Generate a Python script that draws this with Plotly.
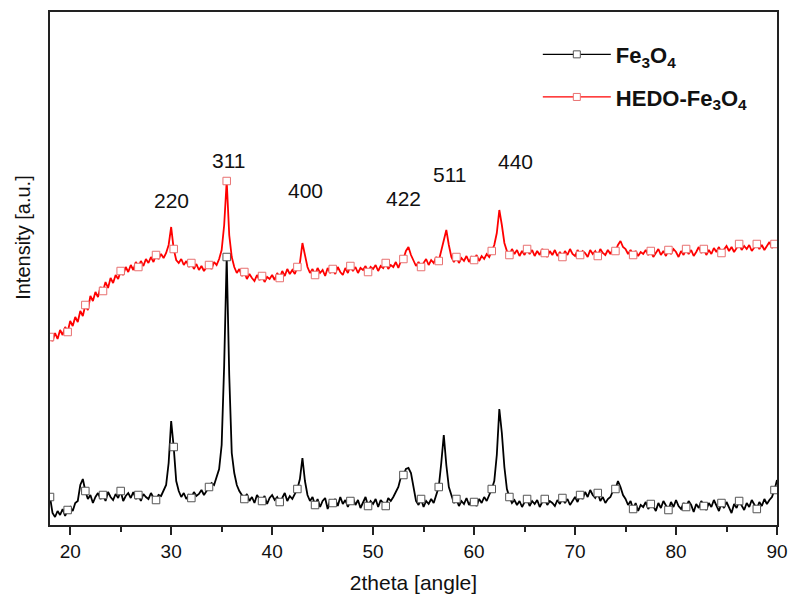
import plotly.graph_objects as go

# 2theta grid: 18 to 90 deg, step 0.25
two_theta_start = 18.0
two_theta_step = 0.25

fe3o4 = [
    28, 12, 8, 14,   10, 16, 9, 15,   18, 14, 22, 24,   40, 46, 34, 26,
    30, 22, 28, 32,  26, 30, 24, 33,  28, 25, 31, 27,  34, 24, 29, 32,
    27, 33, 26, 30,  24, 31, 28, 26,  32, 27, 25, 30,  29, 34, 40, 62,
    104, 78, 44, 34, 28, 32, 26, 30,  27, 33, 29, 31,  35, 30, 34, 38,
    42, 40, 48, 56,  80, 160, 268, 150, 72, 52, 40, 34, 30, 26, 31, 24,
    28, 22, 30, 26,  24, 29, 21, 27,  30, 25, 28, 23,  27, 32, 24, 29,
    26, 31, 36, 46,  67, 44, 30, 24,  28, 20, 26, 18,  24, 27, 16, 25,
    22, 26, 19, 28,  21, 25, 18, 24,  27, 20, 25, 17,  23, 28, 19, 24,
    21, 26, 18, 25,  22, 19, 27, 24,  28, 33, 38, 48,  50, 56, 57, 52,
    36, 24, 20, 26,  18, 24, 21, 26,  22, 30, 38, 62,  90, 60, 38, 30,
    22, 26, 19, 24,  21, 27, 20, 25,  23, 19, 26, 22,  28, 24, 30, 36,
    44, 70, 116, 92, 58, 36, 28, 22,  25, 20, 24, 18,  23, 26, 19, 24,
    21, 25, 18, 23,  26, 20, 24, 22,  19, 25, 21, 27,  22, 26, 20, 24,
    28, 23, 30, 26,  33, 28, 35, 30,  27, 32, 24, 28,  22, 26, 28, 34,
    36, 44, 38, 30,  26, 20, 24, 16,  22, 14, 20, 18,  23, 16, 21, 19,
    14, 22, 17, 24,  20, 15, 23, 18,  25, 19, 16, 22,  18, 24, 20, 13,
    21, 17, 24, 19,  15, 22, 18, 25,  20, 14, 22, 17,  23, 18, 12, 21,
    17, 24, 19, 15,  22, 18, 25, 20,  16, 23, 19, 26,  21, 25, 28, 35,
    45,
]

hedo_fe3o4 = [
    188, 184, 192, 186, 195, 190, 198, 193, 204, 199, 208, 203, 214, 209, 220, 215,
    229, 224, 233, 228, 238, 234, 243, 237, 247, 242, 250, 246, 254, 250, 258, 253,
    260, 255, 263, 258, 264, 259, 266, 262, 268, 263, 270, 266, 271, 267, 272, 280,
    298, 276, 265, 262, 266, 260, 264, 258, 262, 256, 261, 255, 259, 254, 258, 260,
    256, 263, 260, 266, 275, 300, 344, 290, 268, 258, 252, 256, 249, 253, 246, 251,
    247, 244, 250, 245, 249, 243, 248, 246, 250, 245, 252, 247, 254, 249, 256, 251,
    255, 251, 258, 262, 282, 268, 258, 252, 256, 250, 257, 252, 255, 249, 257, 252,
    256, 251, 258, 253, 250, 257, 252, 259, 254, 258, 252, 257, 255, 259, 253, 258,
    256, 260, 254, 259, 257, 262, 256, 260, 258, 263, 257, 264, 266, 274, 278, 270,
    264, 259, 263, 258, 262, 266, 260, 265, 262, 268, 264, 274, 286, 295, 280, 268,
    263, 268, 262, 267, 264, 269, 263, 268, 265, 270, 264, 269, 266, 271, 268, 274,
    280, 292, 315, 300, 282, 274, 270, 276, 271, 275, 269, 274, 270, 276, 271, 275,
    269, 274, 270, 276, 272, 268, 274, 270, 275, 269, 273, 268, 274, 270, 276, 271,
    269, 275, 270, 274, 272, 268, 275, 271, 274, 269, 276, 272, 270, 275, 271, 276,
    274, 280, 284, 278, 276, 271, 275, 270, 274, 269, 273, 271, 275, 270, 274, 268,
    272, 276, 270, 274, 269, 275, 271, 276, 273, 268, 274, 270, 276, 271, 275, 269,
    273, 278, 272, 276, 270, 275, 271, 277, 273, 278, 272, 276, 279, 274, 278, 273,
    277, 281, 275, 279, 276, 280, 274, 278, 281, 276, 280, 275, 279, 283, 277, 281,
    280,
]

two_theta = [two_theta_start + i * two_theta_step for i in range(len(fe3o4))]

peak_labels = ["220", "311", "400", "422", "511", "440"]
peak_x = [30.0, 35.7, 43.3, 53.0, 57.6, 64.1]
peak_y = [325, 365, 335, 327, 351, 364]

x_ticks = [20, 30, 40, 50, 60, 70, 80, 90]

marker_every = 7

FONT = "Liberation Sans, Arial, sans-serif"

fig = go.Figure()

series = [
    ("Fe<sub>3</sub>O<sub>4</sub>", fe3o4, "#000000", "#555555", "g1"),
    ("HEDO-Fe<sub>3</sub>O<sub>4</sub>", hedo_fe3o4, "#ff0000", "#e87070", "g2"),
]

for name, vals, lc, mc, grp in series:
    fig.add_trace(go.Scatter(
        x=two_theta, y=vals, mode="lines",
        line=dict(color=lc, width=1.8),
        showlegend=False, hoverinfo="skip", legendgroup=grp,
    ))
    fig.add_trace(go.Scatter(
        x=two_theta[::marker_every], y=vals[::marker_every], mode="markers",
        marker=dict(symbol="square", size=7.5, color="white",
                    line=dict(color=mc, width=1)),
        showlegend=False, hoverinfo="skip", legendgroup=grp,
    ))
    fig.add_trace(go.Scatter(
        x=[None], y=[None], mode="lines+markers", name="<b>" + name + "</b>",
        line=dict(color=lc, width=1.3),
        marker=dict(symbol="square", size=7, color="white",
                    line=dict(color=mc, width=1)),
        legendgroup=grp,
    ))

for lab, px, py in zip(peak_labels, peak_x, peak_y):
    fig.add_annotation(x=px, y=py, text=lab, showarrow=False,
                       font=dict(family=FONT, size=21, color="#111"),
                       xanchor="center", yanchor="middle")

fig.add_annotation(xref="paper", yref="paper", x=-0.037, y=0.56,
                   text="Intensity [a.u.]", textangle=-90, showarrow=False,
                   font=dict(family=FONT, size=20, color="#111"),
                   xanchor="center", yanchor="middle")

fig.update_layout(
    width=793, height=604, autosize=False,
    margin=dict(l=50, r=16, t=12, b=79, autoexpand=False),
    paper_bgcolor="white", plot_bgcolor="white",
    font=dict(family=FONT, color="#111"),
    legend=dict(x=0.671, y=0.958, xanchor="left", yanchor="top",
                font=dict(family=FONT, size=22, color="#111"),
                itemwidth=68, traceorder="grouped", tracegroupgap=11,
                bgcolor="rgba(0,0,0,0)"),
    xaxis=dict(range=[18, 90], tickvals=x_ticks, ticks="outside", ticklen=8,
               tickwidth=1.5, tickcolor="#222", automargin=False,
               minor=dict(dtick=5, tick0=20, ticks="outside", ticklen=5,
                          tickwidth=1.5, tickcolor="#222"),
               showline=True, linecolor="#222", linewidth=2, mirror=True,
               showgrid=False, zeroline=False,
               tickfont=dict(family=FONT, size=19, color="#111"),
               title=dict(text="2theta [angle]",
                          font=dict(family=FONT, size=21, color="#111"),
                          standoff=15)),
    yaxis=dict(range=[0, 513], showticklabels=False, ticks="",
               automargin=False,
               showline=True, linecolor="#222", linewidth=2, mirror=True,
               showgrid=False, zeroline=False),
)

fig.write_html("out.html",
               config={"displayModeBar": False},
               post_script="document.body.style.margin='0';")
